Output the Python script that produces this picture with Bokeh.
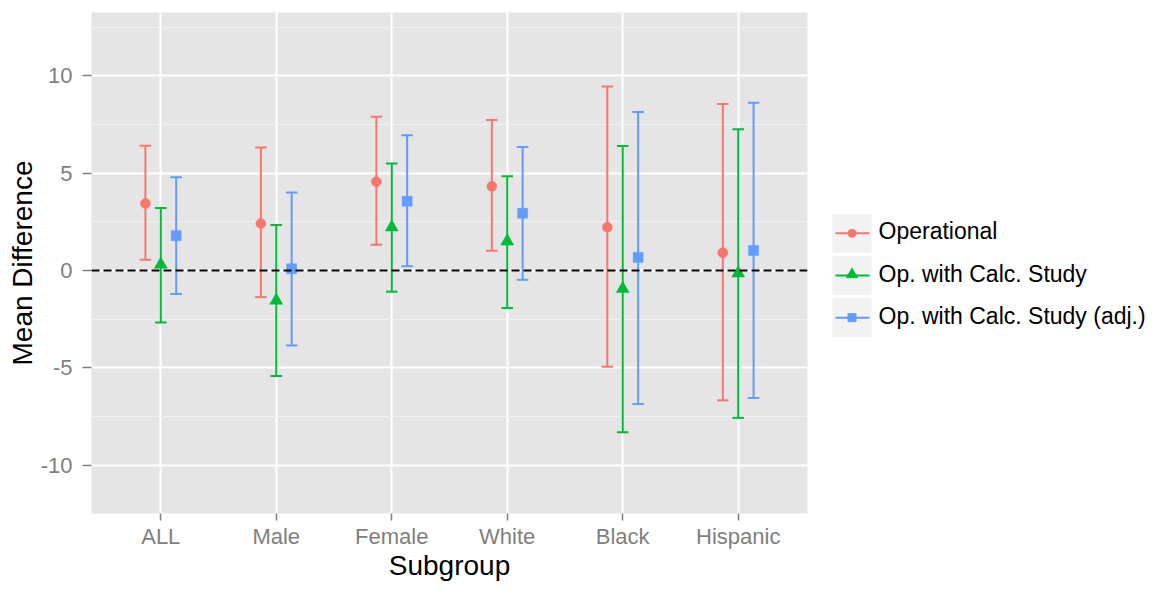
import numpy as np
from bokeh.plotting import figure
from bokeh.layouts import row
from bokeh.models import Range1d, FixedTicker, Span
from bokeh.core.properties import value
from bokeh.embed import file_html
from bokeh.resources import INLINE

# ---------------- data ----------------
categories = ["ALL", "Male", "Female", "White", "Black", "Hispanic"]
series_names = ["Operational", "Op. with Calc. Study", "Op. with Calc. Study (adj.)"]

op_mean = [3.44, 2.41, 4.56, 4.32, 2.22, 0.91]
op_low = [0.55, -1.37, 1.32, 1.01, -4.94, -6.67]
op_high = [6.41, 6.31, 7.90, 7.73, 9.45, 8.55]

calc_mean = [0.31, -1.54, 2.22, 1.50, -0.94, -0.14]
calc_low = [-2.67, -5.42, -1.09, -1.93, -8.31, -7.57]
calc_high = [3.21, 2.34, 5.50, 4.84, 6.39, 7.25]

adj_mean = [1.78, 0.09, 3.55, 2.94, 0.67, 1.03]
adj_low = [-1.21, -3.85, 0.22, -0.48, -6.86, -6.55]
adj_high = [4.79, 4.00, 6.94, 6.34, 8.14, 8.62]

y_ticks = [-10, -5, 0, 5, 10]
y_minor = [-12.5, -7.5, -2.5, 2.5, 7.5, 12.5]

# ---------------- style / layout ----------------
FONT = "Liberation Sans"
colors = ["#F8766D", "#00BA38", "#619CFF"]
markers = ["circle", "triangle", "square"]
msizes = [10, 13, 10]
dodge_offsets = [-0.1333, 0.0, 0.1333]
cap_half = 0.05

means = [op_mean, calc_mean, adj_mean]
lows = [op_low, calc_low, adj_low]
highs = [op_high, calc_high, adj_high]

W_MAIN, H = 820, 585
W_LEG = 1152 - W_MAIN
FRAME_TOP, FRAME_BOTTOM = 12, 513
PX_PER_UNIT = 19.47
Y_TOP = 13.25
Y_BOTTOM = Y_TOP - (FRAME_BOTTOM - FRAME_TOP) / PX_PER_UNIT

p = figure(width=W_MAIN, height=H, output_backend="svg", toolbar_location=None,
           x_range=Range1d(0.4, 6.6), y_range=Range1d(Y_BOTTOM, Y_TOP),
           min_border_left=91, min_border_right=13, min_border_top=FRAME_TOP,
           min_border_bottom=H - FRAME_BOTTOM)
p.background_fill_color = "#E5E5E5"
p.border_fill_color = "white"
p.outline_line_color = None

xpos = np.arange(len(categories)) + 1

p.xaxis.ticker = FixedTicker(ticks=list(xpos))
p.xaxis.major_label_overrides = {int(i): c for i, c in zip(xpos, categories)}
p.yaxis.ticker = FixedTicker(ticks=y_ticks, minor_ticks=y_minor)
p.yaxis.major_label_overrides = {t: str(t) for t in y_ticks}

for ax in (p.xaxis[0], p.yaxis[0]):
    ax.axis_line_color = None
    ax.major_tick_line_color = "#7F7F7F"
    ax.major_tick_line_width = 1.5
    ax.major_tick_in = 0
    ax.minor_tick_line_color = None
    ax.major_label_text_color = "#7F7F7F"
    ax.major_label_text_font = FONT
    ax.major_label_text_font_size = "22px"
    ax.axis_label_text_font = FONT
    ax.axis_label_text_font_size = "28px"
    ax.axis_label_text_font_style = "normal"
    ax.axis_label_text_color = "black"

p.xaxis.axis_label = "Subgroup"
p.yaxis.axis_label = "Mean Difference"
p.xaxis.major_tick_out = 7
p.xaxis.major_label_standoff = 3
p.xaxis.axis_label_standoff = -2
p.yaxis.major_tick_out = 9
p.yaxis.major_label_standoff = 10
p.yaxis.axis_label_standoff = 0

p.xgrid.ticker = FixedTicker(ticks=list(xpos))
p.xgrid.grid_line_color = "white"
p.xgrid.grid_line_width = 2
p.ygrid.grid_line_color = "white"
p.ygrid.grid_line_width = 2
p.ygrid.minor_grid_line_color = "#F2F2F2"
p.ygrid.minor_grid_line_width = 1

zero = Span(location=0, dimension="width", line_color="black", line_width=2,
            line_dash="8 4")

for k in range(3):
    xs = xpos + dodge_offsets[k]
    lo = np.array(lows[k]); hi = np.array(highs[k])
    p.segment(x0=xs, y0=lo, x1=xs, y1=hi, line_color=colors[k], line_width=2)
    p.segment(x0=xs - cap_half, y0=lo, x1=xs + cap_half, y1=lo, line_color=colors[k], line_width=2)
    p.segment(x0=xs - cap_half, y0=hi, x1=xs + cap_half, y1=hi, line_color=colors[k], line_width=2)

p.add_layout(zero)

for k in range(3):
    xs = xpos + dodge_offsets[k]
    p.scatter(x=xs, y=means[k], marker=markers[k], size=msizes[k],
              fill_color=colors[k], line_color=colors[k], line_width=0.5)

# ---------------- legend panel (frame aligned with main frame; y in canvas px) ----------------
lp = figure(width=W_LEG, height=H, output_backend="svg", toolbar_location=None,
            x_range=Range1d(0, W_LEG), y_range=Range1d(FRAME_BOTTOM, FRAME_TOP),
            min_border_left=0, min_border_right=0, min_border_top=FRAME_TOP,
            min_border_bottom=H - FRAME_BOTTOM)
lp.axis.visible = False
lp.grid.visible = False
lp.outline_line_color = None
lp.background_fill_color = "white"
lp.border_fill_color = "white"

row_centers = [232.8, 275.0, 317.2]
key_left, key_size = 12, 39
leg_msizes = [8, 11, 8]
for k in range(3):
    cy = row_centers[k]
    lp.scatter(x=[key_left + key_size / 2], y=[cy], marker="square", size=key_size,
               fill_color="#F2F2F2", line_color=None)
    lp.segment(x0=key_left + 3, y0=cy, x1=key_left + key_size - 2, y1=cy,
               line_color=colors[k], line_width=2)
    lp.scatter(x=[key_left + key_size / 2], y=[cy - (1 if k == 1 else 0)], marker=markers[k],
               size=leg_msizes[k], fill_color=colors[k], line_color=colors[k])
    lp.text(x=[key_left + key_size + 7], y=[cy - 2], text=[series_names[k]], text_font=value(FONT),
            text_font_size="23px", text_color="black", text_baseline="middle",
            text_align="left")

layout = row(p, lp, spacing=0)
open("out.html", "w").write(file_html(layout, INLINE))
